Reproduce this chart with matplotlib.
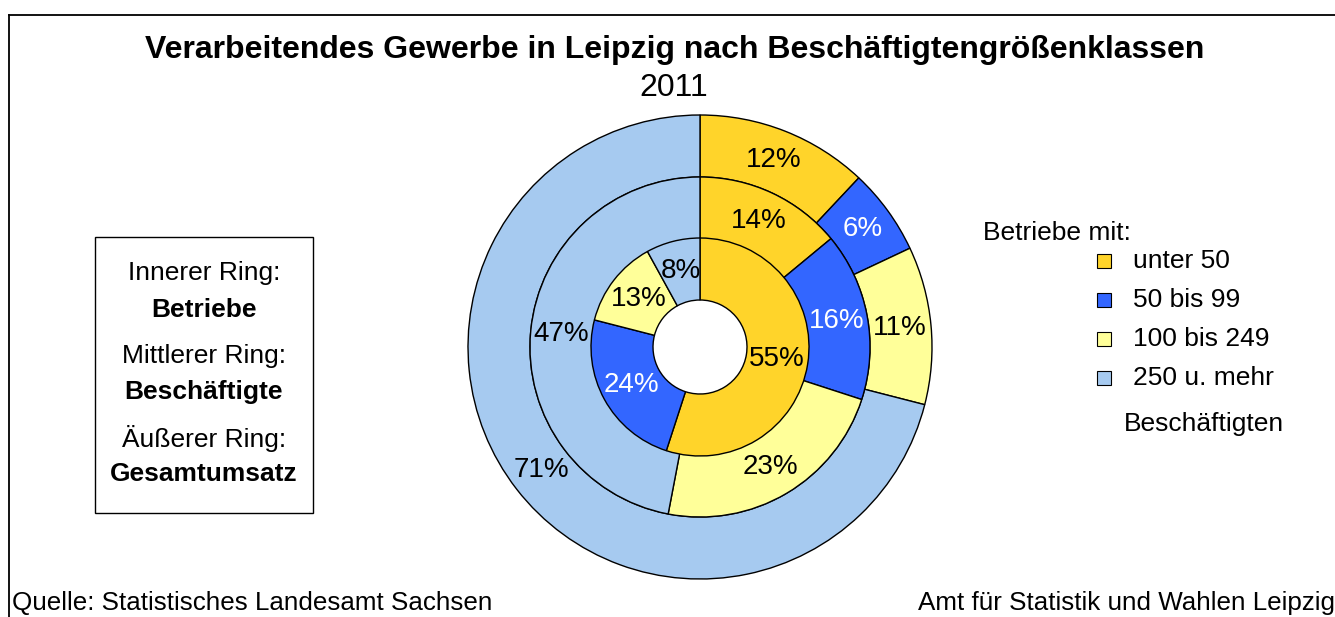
import matplotlib.pyplot as plt
from matplotlib.patches import Rectangle

plt.rcParams['font.family'] = ['Liberation Sans', 'DejaVu Sans']

# Anteile in Prozent, je Ring
klassen = ["unter 50", "50 bis 99", "100 bis 249", "250 u. mehr"]
betriebe = [55, 24, 13, 8]
beschaeftigte = [14, 16, 23, 47]
umsatz = [12, 6, 11, 71]

farben = ["#FFD42A", "#3366FF", "#FFFF99", "#A6CAF0"]
textfarben = ["black", "white", "black", "black"]

W, H = 1335, 617
fig = plt.figure(figsize=(W / 100, H / 100), dpi=100)
ax = fig.add_axes([0, 0, 1, 1])

mitte = (700, H - 347)
ringbreite = 62


def ring(werte, radius):
    wedges, texts, autotexts = ax.pie(
        werte, radius=radius, center=mitte, startangle=90,
        counterclock=False, colors=farben,
        autopct=lambda p: "%.0f%%" % p,
        pctdistance=(radius - ringbreite / 2) / radius,
        wedgeprops=dict(width=ringbreite, edgecolor="black", linewidth=1))
    for t, c in zip(autotexts, textfarben):
        t.set_color(c)
        t.set_fontsize(20)


ring(umsatz, 232)
ring(beschaeftigte, 170)
ring(betriebe, 109)

ax.set_xlim(0, W)
ax.set_ylim(0, H)
ax.set_aspect("equal")
ax.axis("off")

# Rahmen oben und links
ax.plot([9, W], [H - 15, H - 15], color="black", lw=1.3)
ax.plot([9, 9], [H - 15, 0], color="black", lw=1.3)

# Titel
ax.text(675, H - 50, "Verarbeitendes Gewerbe in Leipzig nach Beschäftigtengrößenklassen",
        ha="center", va="center", fontsize=23, fontweight="bold")
ax.text(674, H - 88, "2011", ha="center", va="center", fontsize=23)

# Erklärung der Ringe
ax.add_patch(Rectangle((95, H - 513), 218, 276, facecolor="white",
                       edgecolor="black", lw=1))
zeilen = [("Innerer Ring:", "normal", 273), ("Betriebe", "bold", 310),
          ("Mittlerer Ring:", "normal", 356), ("Beschäftigte", "bold", 392),
          ("Äußerer Ring:", "normal", 438), ("Gesamtumsatz", "bold", 474)]
for txt, gew, y in zeilen:
    ax.text(204, H - y, txt, ha="center", va="center", fontsize=19, fontweight=gew)

# Legende
ax.text(983, H - 233, "Betriebe mit:", ha="left", va="center", fontsize=19)
for i, (name, f) in enumerate(zip(klassen, farben)):
    y = 261 + i * 39
    ax.add_patch(Rectangle((1097, H - y - 7), 14, 14, facecolor=f,
                           edgecolor="black", lw=0.8))
    ax.text(1133, H - y, name, ha="left", va="center", fontsize=19)
ax.text(1124, H - 424, "Beschäftigten", ha="left", va="center", fontsize=19)

# Fußzeile
ax.text(12, H - 603, "Quelle: Statistisches Landesamt Sachsen",
        ha="left", va="center", fontsize=18.7)
ax.text(918, H - 603, "Amt für Statistik und Wahlen Leipzig",
        ha="left", va="center", fontsize=18.7, clip_on=True)

fig.savefig("out.png", dpi=100)
